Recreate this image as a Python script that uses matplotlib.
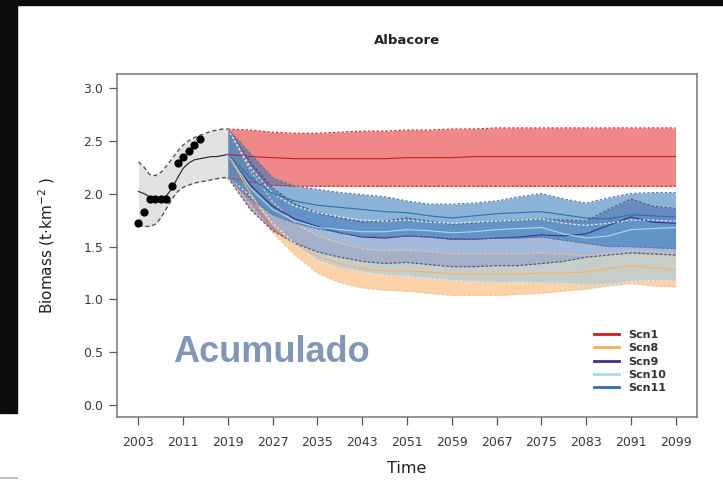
import matplotlib.pyplot as plt
from matplotlib.patches import Rectangle
from matplotlib.lines import Line2D

# historical period (observations + model fit)
hist_years = list(range(2003, 2020))
hist_mean = [2.02, 2.00, 1.97, 1.96, 1.96, 1.98, 2.05, 2.15, 2.24, 2.29, 2.32, 2.33, 2.34, 2.35, 2.35, 2.36, 2.37]
hist_upper = [2.30, 2.25, 2.18, 2.17, 2.20, 2.26, 2.33, 2.40, 2.46, 2.50, 2.53, 2.55, 2.57, 2.59, 2.60, 2.61, 2.61]
hist_lower = [1.70, 1.69, 1.69, 1.71, 1.77, 1.86, 1.95, 2.02, 2.06, 2.08, 2.10, 2.11, 2.12, 2.13, 2.14, 2.15, 2.15]

obs_years = list(range(2003, 2015))
obs_vals = [1.72, 1.83, 1.95, 1.95, 1.95, 1.95, 2.07, 2.29, 2.35, 2.40, 2.46, 2.52]

# projections
proj_years = list(range(2019, 2100, 4))

scn1_mean = [2.37, 2.35, 2.34, 2.33, 2.33, 2.33, 2.33, 2.33, 2.34, 2.34, 2.34, 2.35, 2.35, 2.35, 2.35, 2.35, 2.35, 2.35, 2.35, 2.35, 2.35]
scn1_upper = [2.61, 2.60, 2.58, 2.57, 2.57, 2.58, 2.59, 2.59, 2.60, 2.60, 2.61, 2.61, 2.62, 2.62, 2.62, 2.62, 2.62, 2.62, 2.62, 2.62, 2.62]
scn1_lower = [2.15, 2.11, 2.08, 2.07, 2.07, 2.07, 2.07, 2.07, 2.07, 2.07, 2.07, 2.07, 2.07, 2.07, 2.07, 2.07, 2.07, 2.07, 2.07, 2.07, 2.07]

scn8_mean = [2.37, 2.00, 1.70, 1.52, 1.41, 1.34, 1.29, 1.27, 1.27, 1.26, 1.24, 1.24, 1.24, 1.24, 1.25, 1.25, 1.26, 1.29, 1.32, 1.30, 1.28]
scn8_upper = [2.61, 2.22, 1.92, 1.72, 1.60, 1.53, 1.48, 1.46, 1.47, 1.45, 1.43, 1.43, 1.43, 1.43, 1.44, 1.43, 1.41, 1.43, 1.46, 1.45, 1.43]
scn8_lower = [2.15, 1.90, 1.63, 1.42, 1.25, 1.16, 1.11, 1.09, 1.08, 1.06, 1.04, 1.04, 1.04, 1.05, 1.06, 1.08, 1.10, 1.13, 1.15, 1.13, 1.12]

scn9_mean = [2.37, 2.08, 1.88, 1.76, 1.69, 1.63, 1.59, 1.58, 1.60, 1.59, 1.57, 1.57, 1.58, 1.59, 1.61, 1.60, 1.62, 1.70, 1.78, 1.73, 1.72]
scn9_upper = [2.61, 2.30, 2.05, 1.90, 1.82, 1.77, 1.73, 1.74, 1.77, 1.74, 1.71, 1.72, 1.74, 1.75, 1.76, 1.75, 1.74, 1.85, 1.95, 1.88, 1.86]
scn9_lower = [2.15, 1.85, 1.65, 1.53, 1.45, 1.40, 1.36, 1.34, 1.35, 1.33, 1.31, 1.31, 1.32, 1.32, 1.34, 1.36, 1.40, 1.42, 1.44, 1.43, 1.42]

scn10_mean = [2.37, 2.05, 1.85, 1.74, 1.68, 1.66, 1.64, 1.64, 1.66, 1.65, 1.63, 1.64, 1.66, 1.67, 1.68, 1.62, 1.58, 1.60, 1.66, 1.67, 1.68]
scn10_upper = [2.61, 2.25, 2.00, 1.88, 1.82, 1.78, 1.75, 1.74, 1.75, 1.73, 1.72, 1.73, 1.74, 1.75, 1.76, 1.72, 1.70, 1.72, 1.75, 1.75, 1.74]
scn10_lower = [2.15, 1.98, 1.72, 1.52, 1.37, 1.30, 1.26, 1.23, 1.22, 1.20, 1.18, 1.17, 1.16, 1.16, 1.16, 1.15, 1.14, 1.14, 1.17, 1.18, 1.18]

scn11_mean = [2.37, 2.15, 2.00, 1.93, 1.89, 1.87, 1.85, 1.83, 1.82, 1.79, 1.77, 1.79, 1.81, 1.82, 1.83, 1.80, 1.77, 1.76, 1.80, 1.79, 1.78]
scn11_upper = [2.61, 2.38, 2.15, 2.07, 2.04, 2.01, 1.99, 1.97, 1.93, 1.90, 1.90, 1.91, 1.93, 1.97, 2.00, 1.95, 1.91, 1.96, 2.00, 2.01, 2.01]
scn11_lower = [2.15, 1.95, 1.80, 1.72, 1.67, 1.63, 1.60, 1.59, 1.60, 1.59, 1.57, 1.57, 1.58, 1.58, 1.59, 1.56, 1.53, 1.50, 1.50, 1.49, 1.48]

scn_names = ['Scn1', 'Scn8', 'Scn9', 'Scn10', 'Scn11']
scn_line = ['#D7191C', '#FDAE61', '#3F2F8F', '#ABD9E9', '#2C6FAE']
scn_fill = ['#E31A1C', '#FDAE61', '#5E4FA2', '#9CCBE6', '#2C75B6']
scn_alpha = [0.52, 0.55, 0.5, 0.55, 0.55]
scn_edge = ['#C0392B', '#F2C199', '#5A5A70', '#D8ECF4', '#5B7CA8']
scn_data = [
    (scn1_mean, scn1_upper, scn1_lower),
    (scn8_mean, scn8_upper, scn8_lower),
    (scn9_mean, scn9_upper, scn9_lower),
    (scn10_mean, scn10_upper, scn10_lower),
    (scn11_mean, scn11_upper, scn11_lower),
]

xticks = list(range(2003, 2100, 8))
yticks = [0, 0.5, 1.0, 1.5, 2.0, 2.5, 3.0]

fig = plt.figure(figsize=(7.23, 4.98), dpi=100)
fig.patch.set_facecolor('white')

# dark frame of the screenshot
fig.patches.append(Rectangle((0, 1 - 5 / 498), 1, 5 / 498, transform=fig.transFigure,
                             color='#0d0d0d', zorder=0))
fig.patches.append(Rectangle((0, 1 - 413 / 498), 17 / 723, 413 / 498, transform=fig.transFigure,
                             color='#0d0d0d', zorder=0))
fig.lines.append(Line2D([0, 17 / 723], [1 - 478 / 498] * 2, transform=fig.transFigure,
                        color='#b0b0b0', lw=1.2))

ax = fig.add_axes([117 / 723, 1 - 417 / 498, 580 / 723, 343 / 498])

# historical band
ax.fill_between(hist_years, hist_lower, hist_upper, color='#e2e2e2', lw=0, zorder=1)
ax.plot(hist_years, hist_upper, ls=(0, (3, 2)), color='#555555', lw=1, zorder=3)
ax.plot(hist_years, hist_lower, ls=(0, (3, 2)), color='#555555', lw=1, zorder=3)
ax.plot(hist_years, hist_mean, color='#333333', lw=0.9, zorder=3)
ax.scatter(obs_years, obs_vals, s=24, color='black', zorder=4)

# scenario bands
for i, (m, up, lo) in enumerate(scn_data):
    ax.fill_between(proj_years, lo, up, color=scn_fill[i], alpha=scn_alpha[i], lw=0, zorder=2)
    ax.plot(proj_years, up, ls=(0, (2, 1.5)), color=scn_edge[i], lw=0.9, zorder=3)
    ax.plot(proj_years, lo, ls=(0, (2, 1.5)), color=scn_edge[i], lw=0.9, zorder=3)
    ax.plot(proj_years, m, color=scn_line[i], lw=0.8, zorder=3)

ax.set_xlim(1999.16, 2102.84)
ax.set_ylim(-0.11, 3.13)
ax.set_xticks(xticks)
ax.set_xticklabels([str(x) for x in xticks], fontsize=9)
ax.set_yticks(yticks)
ax.set_yticklabels(['%.1f' % y for y in yticks], fontsize=9)
ax.tick_params(direction='out', length=6, width=0.9, color='#555555', labelcolor='#3a3a3a', pad=4)
ax.tick_params(axis='x', pad=8)
for s in ax.spines.values():
    s.set_color('#777777')
    s.set_linewidth(1.1)

handles = [Line2D([], [], color=c, lw=2) for c in scn_line]
leg = ax.legend(handles, scn_names, loc='lower right', bbox_to_anchor=(0.965, 0.04),
                frameon=False, handlelength=2.2, handletextpad=0.9, labelspacing=0.3,
                prop={'size': 8, 'weight': 'bold'})
for t in leg.get_texts():
    t.set_color('#333333')

ax.text(173 / 723, 1 - 352 / 498, 'Acumulado', transform=fig.transFigure, fontsize=26,
        fontweight='bold', color='#8097B5', va='center', ha='left',
        family=['Liberation Sans', 'DejaVu Sans'])

fig.text(407 / 723, 1 - 40 / 498, 'Albacore', ha='center', va='center', fontsize=9.5,
         fontweight='bold', color='#222222')
fig.text(407 / 723, 1 - 468 / 498, 'Time', ha='center', va='center', fontsize=11.5, color='#222222')
fig.text(47 / 723, 1 - 245 / 498, 'Biomass (t$\\cdot$km$^{-2}$ )', ha='center', va='center',
         rotation=90, fontsize=11, color='#222222')

fig.savefig('out.png', dpi=100)
